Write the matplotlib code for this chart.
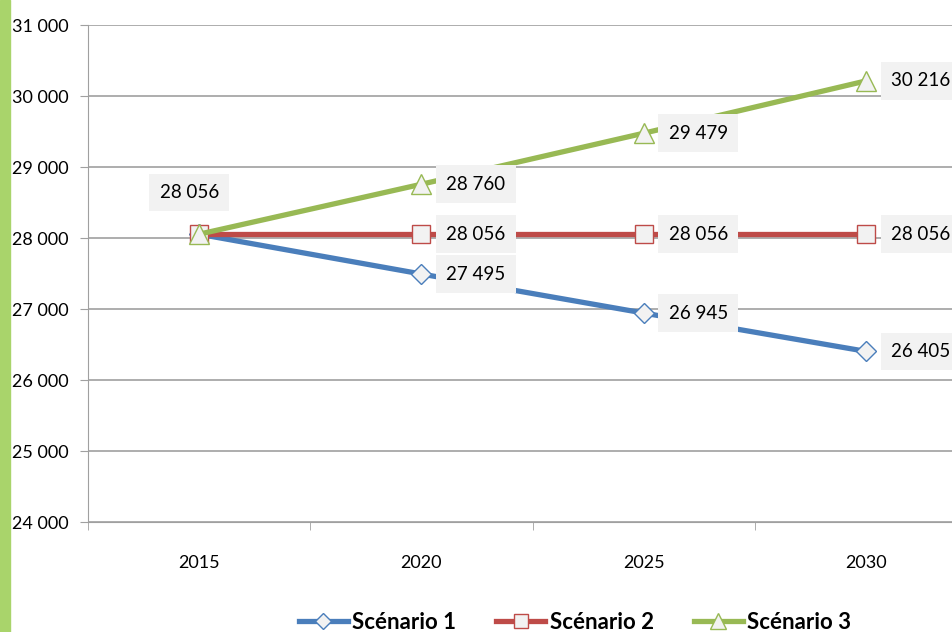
import matplotlib.pyplot as plt
from matplotlib.patches import Rectangle

plt.rcParams['font.family'] = ['Lato', 'DejaVu Sans']

annees = ['2015', '2020', '2025', '2030']
scenario1 = [28056, 27495, 26945, 26405]
scenario2 = [28056, 28056, 28056, 28056]
scenario3 = [28056, 28760, 29479, 30216]


def fmt(v):
    return f'{v:,}'.replace(',', ' ')


fig = plt.figure(figsize=(9.52, 6.32), dpi=100)
fig.patches.append(Rectangle((0, 0), 0.011, 1, transform=fig.transFigure,
                             color='#a9d46b', zorder=0))
ax = fig.add_axes([0.0924, 0.174, 0.934, 0.786])

x = list(range(len(annees)))
series = [
    ('Scénario 1', scenario1, '#4a7ebb', 'D', 10),
    ('Scénario 2', scenario2, '#be4b48', 's', 13),
    ('Scénario 3', scenario3, '#98b954', '^', 14),
]
for nom, vals, col, mk, ms in series:
    ax.plot(x, vals, color=col, lw=3.8, marker=mk, ms=ms,
            mfc='#f2f2f2', mec=col, mew=1.0, label=nom, zorder=3)

box = dict(boxstyle='square,pad=0.55', fc='#f2f2f2', ec='none')
# label for 2015 (all equal)
ax.annotate(fmt(scenario1[0]), (0, scenario1[0]), xytext=(-7, 30),
            textcoords='offset points', ha='center', va='center',
            fontsize=13.5, bbox=box)
for nom, vals, col, mk, ms in series:
    for i in range(1, len(vals)):
        ax.annotate(fmt(vals[i]), (i, vals[i]), xytext=(18, 0),
                    textcoords='offset points', ha='left', va='center',
                    fontsize=13.5, bbox=box, zorder=4)

ax.set_xlim(-0.5, 3.5)
ax.set_ylim(24000, 31000)
ax.set_yticks(range(24000, 31001, 1000))
ax.set_yticklabels([fmt(v) for v in range(24000, 31001, 1000)], fontsize=13)
ax.set_xticks(x)
ax.set_xticklabels(annees, fontsize=13)
ax.set_xticks([-0.5, 0.5, 1.5, 2.5], minor=True)
ax.tick_params(axis='x', which='major', length=0, pad=24)
ax.tick_params(axis='x', which='minor', length=6, color='#a0a0a0')
ax.tick_params(axis='y', length=6, color='#a0a0a0', pad=8)
ax.grid(axis='y', color='#a0a0a0', lw=1.2)
ax.set_axisbelow(True)
for s in ['top', 'right']:
    ax.spines[s].set_visible(False)
ax.spines['left'].set_color('#a0a0a0')
ax.spines['bottom'].set_color('#a0a0a0')

fig.legend(loc='center', bbox_to_anchor=(0.604, 0.015), ncol=3, frameon=False,
           prop={'size': 16, 'weight': 'bold'}, handlelength=2.2,
           columnspacing=1.8, handletextpad=0.2, markerscale=0.8)

fig.savefig('out.png', dpi=100)
